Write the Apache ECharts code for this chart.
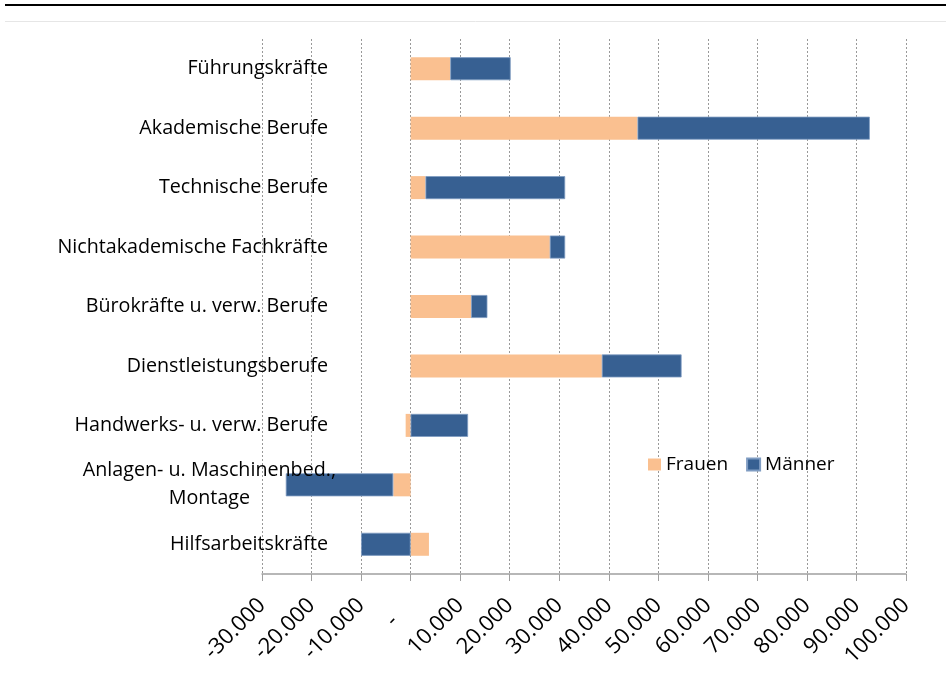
<!DOCTYPE html>
<html>
<head>
<meta charset="utf-8">
<script src="https://cdn.jsdelivr.net/npm/echarts@6/dist/echarts.min.js"></script>
<style>
html,body{margin:0;padding:0;background:#fff;}
#c{width:946px;height:685px;}
</style>
</head>
<body>
<div id="c"></div>
<script>
const categories = [
  'Führungskräfte',
  'Akademische Berufe',
  'Technische Berufe',
  'Nichtakademische Fachkräfte',
  'Bürokräfte u. verw. Berufe',
  'Dienstleistungsberufe',
  'Handwerks- u. verw. Berufe',
  'Anlagen- u. Maschinenbed.,\nMontage',
  'Hilfsarbeitskräfte'
];
const frauen = [8000, 45800, 3000, 28100, 12200, 38600, -1000, -3500, 3700];
const maenner = [12200, 46900, 28200, 3100, 3300, 16100, 11600, -21700, -10000];
const seriesNames = ['Frauen', 'Männer'];

const FONT = 'Open Sans';
const FS = 19.7;
const XFS = 22;
const chart = echarts.init(document.getElementById('c'), null, {renderer: 'canvas'});

function fmt(v) {
  if (v === 0) return '-    ';
  const s = Math.abs(v).toString().replace(/\B(?=(\d{3})+(?!\d))/g, '.');
  return (v < 0 ? '-' : '') + s;
}

const catData = categories.map(function (c) {
  if (c.indexOf('\n') >= 0) {
    return {value: c, textStyle: {padding: [0, -8, 0, 0]}};
  }
  return c;
});

chart.setOption({
  animation: false,
  backgroundColor: '#fff',
  graphic: [
    {type: 'line', shape: {x1: 5, y1: 5, x2: 946, y2: 5}, style: {stroke: '#000', lineWidth: 2}},
    {type: 'line', shape: {x1: 5, y1: 21.5, x2: 946, y2: 21.5}, style: {stroke: '#e6e6e6', lineWidth: 1}}
  ],
  grid: {left: 262, right: 40, top: 39, bottom: 111, containLabel: false},
  legend: {
    data: seriesNames,
    left: 643, top: 450,
    itemWidth: 13, itemHeight: 12, itemGap: 18,
    icon: 'rect',
    textStyle: {fontFamily: FONT, fontSize: 19, color: '#000'}
  },
  xAxis: {
    type: 'value',
    min: -30000, max: 100000, interval: 10000,
    axisLine: {show: true, lineStyle: {color: '#a0a0a0', width: 1.5}},
    axisTick: {show: true, length: 7, lineStyle: {color: '#a0a0a0'}},
    splitLine: {show: true, lineStyle: {color: '#999', type: [2, 2], width: 1}},
    axisLabel: {
      rotate: 45, margin: 28,
      fontFamily: FONT, fontSize: XFS, color: '#000',
      formatter: fmt
    }
  },
  yAxis: {
    type: 'category',
    inverse: true,
    z: 10,
    data: catData,
    axisLine: {show: false},
    axisTick: {show: false},
    splitLine: {show: false},
    axisLabel: {
      margin: -66,
      fontFamily: FONT, fontSize: FS, color: '#000',
      formatter: function (v) {
        if (v.indexOf('\n') >= 0) {
          return v.split('\n').map(p => '{c|' + p + '}').join('\n');
        }
        return v;
      },
      rich: {c: {align: 'center', fontFamily: FONT, fontSize: FS, color: '#000', lineHeight: 28}}
    }
  },
  series: [
    {
      name: seriesNames[0], type: 'bar', stack: 'total', data: frauen,
      barWidth: 23,
      itemStyle: {color: '#FAC090'}
    },
    {
      name: seriesNames[1], type: 'bar', stack: 'total', data: maenner,
      barWidth: 23,
      itemStyle: {color: '#376092', borderColor: '#7f9cc2', borderWidth: 0.8}
    }
  ]
});
</script>
</body>
</html>
